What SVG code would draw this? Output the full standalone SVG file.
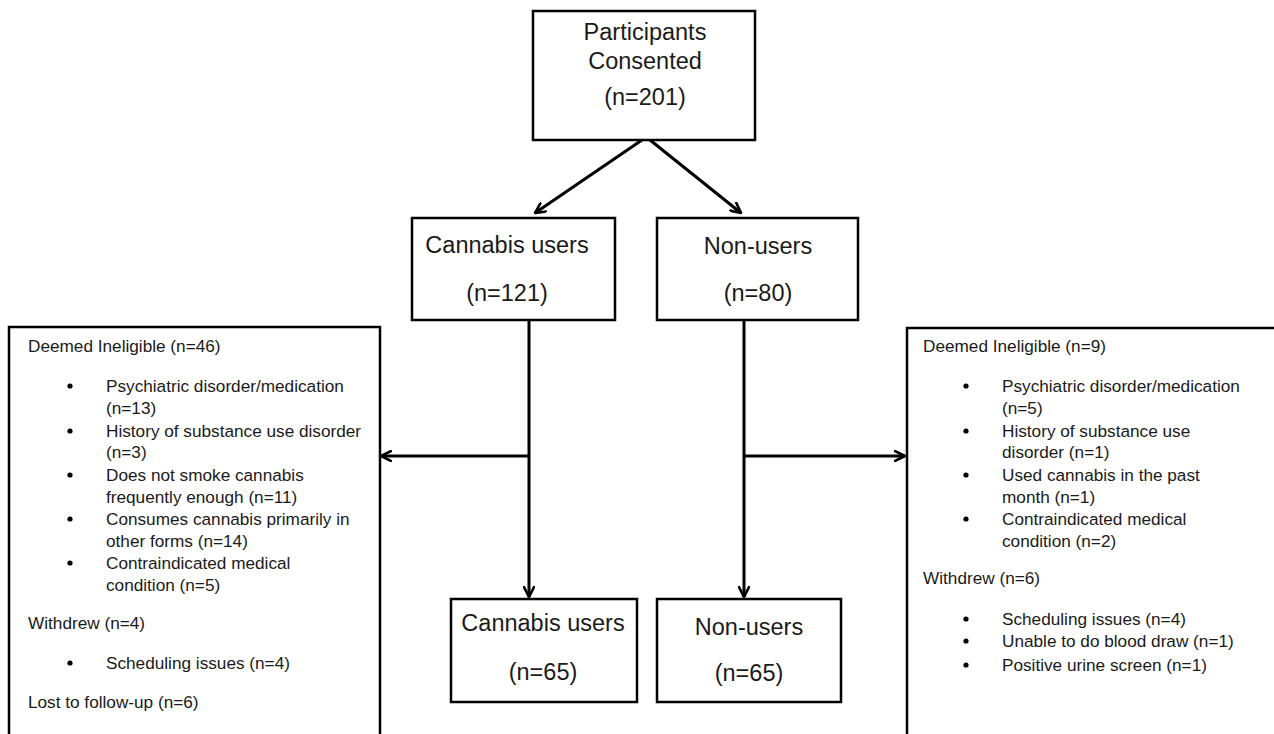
<svg xmlns="http://www.w3.org/2000/svg" width="1274" height="734" viewBox="0 0 1274 734">
<defs>
<style>
.box{fill:#fff;stroke:#000;stroke-width:2.5}
.big{font-family:"Liberation Sans",Arial,sans-serif;font-size:23.5px;fill:#1a1a1a;text-anchor:middle}
.sm{font-family:"Liberation Sans",Arial,sans-serif;font-size:17.2px;fill:#1a1a1a}
.bu{fill:#000}
.ln{fill:none;stroke:#000;stroke-width:3}
</style>
<marker id="ah" viewBox="0 0 12 12" refX="11" refY="6" markerWidth="12" markerHeight="12" markerUnits="userSpaceOnUse" orient="auto">
<path d="M1,1 L11,6 L1,11" fill="none" stroke="#000" stroke-width="2.6" stroke-linecap="round"/>
</marker>
</defs>
<rect width="1274" height="734" fill="#fff"/>
<g id="connectors">
<line class="ln" x1="642" y1="140" x2="535" y2="213" marker-end="url(#ah)"/>
<line class="ln" x1="650" y1="140" x2="741" y2="213" marker-end="url(#ah)"/>
<line class="ln" x1="529" y1="320" x2="529" y2="597" marker-end="url(#ah)"/>
<line class="ln" x1="744" y1="320" x2="744" y2="597" marker-end="url(#ah)"/>
<line class="ln" x1="529" y1="456" x2="381" y2="456" marker-end="url(#ah)"/>
<line class="ln" x1="744" y1="456" x2="905" y2="456" marker-end="url(#ah)"/>
</g>
<g id="consented">
<rect class="box" x="533" y="11" width="222" height="129"/>
<text class="big" x="645" y="40">Participants</text>
<text class="big" x="645" y="69">Consented</text>
<text class="big" x="645" y="105">(n=201)</text>
</g>
<g id="users121">
<rect class="box" x="412" y="218" width="203" height="102"/>
<text class="big" x="507" y="253">Cannabis users</text>
<text class="big" x="507" y="301">(n=121)</text>
</g>
<g id="nonusers80">
<rect class="box" x="657" y="218" width="201" height="102"/>
<text class="big" x="758" y="254">Non-users</text>
<text class="big" x="758" y="301">(n=80)</text>
</g>
<g id="users65">
<rect class="box" x="451" y="599" width="186" height="103"/>
<text class="big" x="543" y="631">Cannabis users</text>
<text class="big" x="543" y="680">(n=65)</text>
</g>
<g id="nonusers65">
<rect class="box" x="657" y="599" width="184" height="103"/>
<text class="big" x="749" y="635">Non-users</text>
<text class="big" x="749" y="681">(n=65)</text>
</g>
<g id="excluded-users">
<rect class="box" x="9" y="327" width="371" height="420"/>
<g class="bu">
<circle cx="70" cy="386" r="2.6"/><circle cx="70" cy="431" r="2.6"/><circle cx="70" cy="475" r="2.6"/><circle cx="70" cy="519" r="2.6"/><circle cx="70" cy="563" r="2.6"/><circle cx="70" cy="663" r="2.6"/>
</g>
<g class="sm">
<text x="28" y="352">Deemed Ineligible (n=46)</text>
<text x="106" y="392">Psychiatric disorder/medication</text>
<text x="106" y="414">(n=13)</text>
<text x="106" y="437">History of substance use disorder</text>
<text x="106" y="458">(n=3)</text>
<text x="106" y="481">Does not smoke cannabis</text>
<text x="106" y="503">frequently enough (n=11)</text>
<text x="106" y="525">Consumes cannabis primarily in</text>
<text x="106" y="547">other forms (n=14)</text>
<text x="106" y="569">Contraindicated medical</text>
<text x="106" y="591">condition (n=5)</text>
<text x="28" y="629">Withdrew (n=4)</text>
<text x="106" y="669">Scheduling issues (n=4)</text>
<text x="28" y="708">Lost to follow-up (n=6)</text>
</g>
</g>
<g id="excluded-nonusers">
<rect class="box" x="907" y="328" width="380" height="420"/>
<g class="bu">
<circle cx="966" cy="386" r="2.6"/><circle cx="966" cy="431" r="2.6"/><circle cx="966" cy="475" r="2.6"/><circle cx="966" cy="519" r="2.6"/><circle cx="966" cy="619" r="2.6"/><circle cx="966" cy="641" r="2.6"/><circle cx="966" cy="665" r="2.6"/>
</g>
<g class="sm">
<text x="923" y="352">Deemed Ineligible (n=9)</text>
<text x="1002" y="392">Psychiatric disorder/medication</text>
<text x="1002" y="414">(n=5)</text>
<text x="1002" y="437">History of substance use</text>
<text x="1002" y="458">disorder (n=1)</text>
<text x="1002" y="481">Used cannabis in the past</text>
<text x="1002" y="503">month (n=1)</text>
<text x="1002" y="525">Contraindicated medical</text>
<text x="1002" y="547">condition (n=2)</text>
<text x="923" y="584">Withdrew (n=6)</text>
<text x="1002" y="625">Scheduling issues (n=4)</text>
<text x="1002" y="647">Unable to do blood draw (n=1)</text>
<text x="1002" y="671">Positive urine screen (n=1)</text>
</g>
</g>
</svg>
